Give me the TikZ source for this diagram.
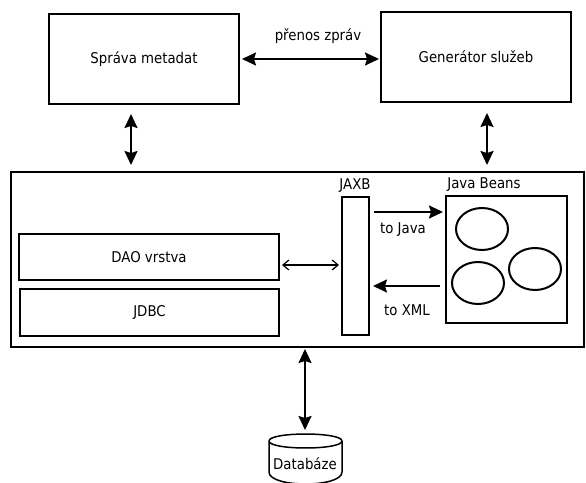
\documentclass[tikz,border=0pt]{standalone}
\usepackage{fontspec}
\setmainfont{DejaVu Sans Condensed}
\usetikzlibrary{arrows.meta,shapes.geometric,calc}
\begin{document}
\begin{tikzpicture}[x=1pt,y=-1pt,
  every node/.style={font=\fontsize{14.8}{17}\selectfont},
  box/.style={draw,line width=2pt,inner sep=0pt,rectangle},
  lbl/.style={inner sep=0pt},
  bigarrow/.style={line width=2pt,{Stealth[length=14pt,width=13pt,inset=2pt]}-{Stealth[length=14pt,width=13pt,inset=2pt]}},
  onearrow/.style={line width=2pt,-{Stealth[length=14pt,width=13pt,inset=2pt]}},
  thinarrow/.style={line width=1.2pt,{Straight Barb[length=6pt,width=10pt]}-{Straight Barb[length=6pt,width=10pt]}},
  bean/.style={draw,ellipse,line width=2pt,minimum width=52pt,minimum height=42pt,inner sep=0pt}
]
\useasboundingbox[fill=white] (0,0) rectangle (586,482);

% top boxes
\node[box,minimum width=190pt,minimum height=90pt] (sprava) at (144,59) {Správa metadat};
\node[box,minimum width=190pt,minimum height=90pt] (gen) at (476,57) {Generátor služeb};
\node[lbl] (prenos) at (318,36) {přenos zpráv};

% big container
\node[box,minimum width=573pt,minimum height=175pt] (big) at (297.5,259.5) {};
\node[box,minimum width=260pt,minimum height=46pt] (dao) at (149,257) {DAO vrstva};
\node[box,minimum width=259pt,minimum height=47pt] (jdbc) at (149.5,312.5) {JDBC};
\node[box,minimum width=27pt,minimum height=138pt] (jaxb) at (355.5,266) {};
\node[lbl] (jaxblbl) at (355,186) {JAXB};
\node[box,minimum width=121pt,minimum height=127pt] (beans) at (506.5,259.5) {};
\node[lbl] (beanslbl) at (484,185) {Java Beans};
\node[bean] (b1) at (482,229) {};
\node[bean] (b2) at (478,283) {};
\node[bean] (b3) at (535,269) {};
\node[lbl] (tojava) at (403,230) {to Java};
\node[lbl] (toxml) at (407,310) {to XML};

% database
\node[lbl] (db) at (305,464) {Databáze};
\coordinate (dbtop) at (305,434);
\draw[line width=1.5pt] (269,441) .. controls (269,431.7) and (342,431.7) .. (342,441)
  .. controls (342,450.3) and (269,450.3) .. (269,441);
\draw[line width=1.5pt] (269,441) -- (269,472) .. controls (269,488) and (342,488) .. (342,472) -- (342,441);

% connectors
\draw[bigarrow,shorten <=2pt,shorten >=1pt] (sprava.east) -- (sprava.east -| gen.west);
\draw[bigarrow,shorten <=9pt,shorten >=6pt] ([xshift=-13pt]sprava.south) -- ([xshift=-13pt]sprava.south |- big.north);
\draw[bigarrow,shorten <=10pt,shorten >=6pt] ([xshift=11pt]gen.south) -- ([xshift=11pt]gen.south |- big.north);
\draw[bigarrow,shorten <=1pt,shorten >=4pt] (big.south -| dbtop) -- (dbtop);

\coordinate (daoR) at ($(dao.east)+(0,8)$);
\draw[thinarrow,shorten <=2pt,shorten >=2pt] (daoR) -- (daoR -| jaxb.west);

\coordinate (javaL) at ($(jaxb.east)+(0,-54)$);
\draw[onearrow,shorten <=4pt,shorten >=2pt] (javaL) -- (javaL -| beans.west);
\coordinate (xmlL) at ($(jaxb.east)+(0,20)$);
\draw[onearrow,shorten <=5pt,shorten >=3pt] (xmlL -| beans.west) -- (xmlL);
\end{tikzpicture}
\end{document}
